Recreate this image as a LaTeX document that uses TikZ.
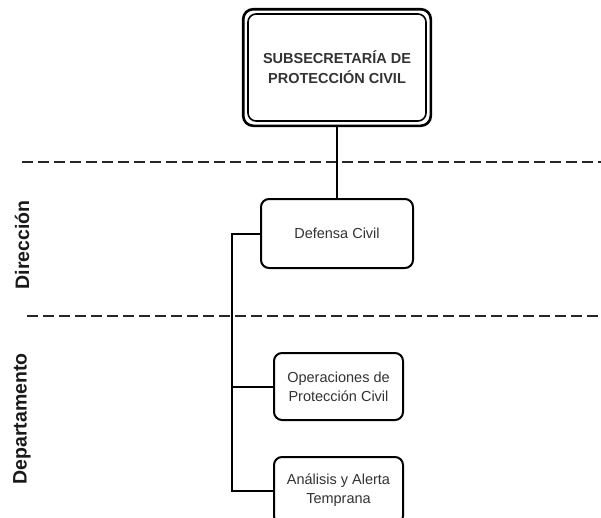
\documentclass[tikz,border=0pt]{standalone}
\usepackage{fontspec}
\setmainfont{Liberation Sans}
\usetikzlibrary{positioning, fit, calc}

\tikzset{
  unidad/.style={draw, line width=2pt, rounded corners=8pt, fill=white,
                 align=center, text=black!80, font=\fontsize{14.5}{19}\selectfont},
  nivel/.style={rotate=90, font=\fontsize{19.5}{20}\selectfont\bfseries, text=black!90},
  separador/.style={line width=2.4pt, dash pattern=on 11pt off 5pt, black!85},
  enlace/.style={line width=2pt}
}

\begin{document}
\begin{tikzpicture}[x=1pt, y=-1pt]
  \useasboundingbox (0,0) rectangle (601,517);
  \clip (0,0) rectangle (601,517);

  % Separadores de niveles
  \draw[separador] (22,162) -- (601,162);
  \draw[separador] (27,316) -- (601,316);

  % Niveles
  \node[nivel] (direccion) at (22,245) {Dirección};
  \node[nivel] (departamento) at (22,419) {Departamento};

  % Subsecretaría
  \node[unidad, line width=1.6pt, minimum width=178pt, minimum height=107pt,
        font=\fontsize{14.5}{20}\selectfont\bfseries]
      (subsecretaria) at (337,67.5) {SUBSECRETARÍA DE\\PROTECCIÓN CIVIL};
  \node[draw, line width=2.6pt, rounded corners=10pt, inner sep=4pt,
        fit=(subsecretaria)] (marco) {};

  % Dirección
  \node[unidad, minimum width=152pt, minimum height=69pt]
      (defensa) at (337,233.5) {Defensa Civil};

  % Departamentos
  \node[unidad, minimum width=129pt, minimum height=67pt]
      (operaciones) at (338.5,386.5) {Operaciones de\\Protección Civil};
  \node[unidad, minimum width=129pt, minimum height=67pt,
        below=35pt of operaciones] (analisis) {Análisis y Alerta\\Temprana};

  % Conectores
  \draw[enlace] (marco.south) -- (defensa.north);
  \draw[enlace] (defensa.west) -- ++(-28,0) coordinate (tronco)
      -- (tronco |- analisis.west) -- (analisis.west);
  \draw[enlace] (tronco |- operaciones.west) -- (operaciones.west);
\end{tikzpicture}
\end{document}
